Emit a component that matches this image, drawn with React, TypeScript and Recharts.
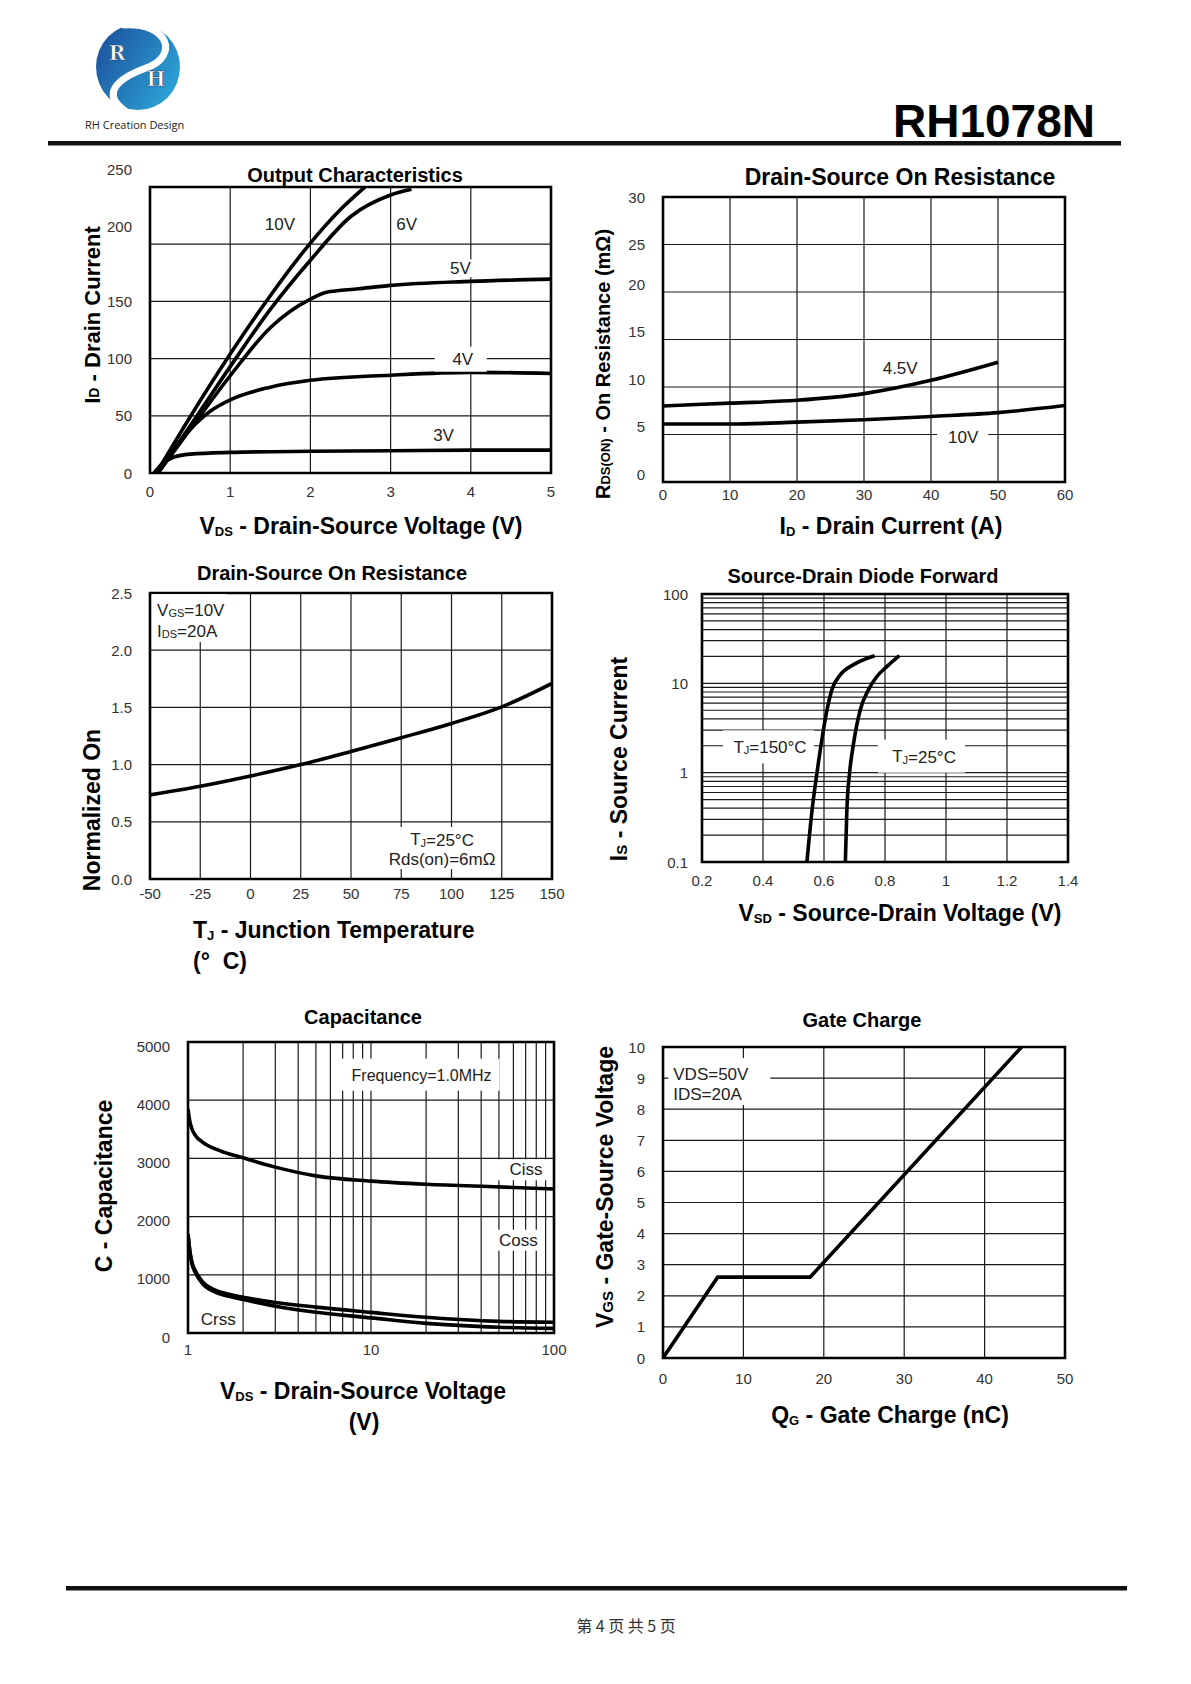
import React from "react";
import {
  ComposedChart,
  Line,
  XAxis,
  YAxis,
  CartesianGrid,
  ReferenceArea,
  ReferenceDot,
} from "recharts";

const SANS = '"Liberation Sans", Arial, Helvetica, sans-serif';

// ---- Output characteristics: ID vs VDS for each VGS
const VDS_10V = [0.08, 0.5, 1, 1.5, 2, 2.4, 2.68];
const ID_10V = [0, 49, 104, 155, 201, 232, 250];
const VDS_6V = [0.1, 0.5, 1, 1.5, 2, 2.5, 3, 3.26];
const ID_6V = [0, 41, 93, 143, 186, 224, 243, 248];
const VDS_5V = [0.1, 0.5, 1, 1.5, 2, 2.2, 2.6, 3, 4, 5];
const ID_5V = [0, 38, 85, 127, 152, 158, 161, 164, 167.5, 169.5];
const VDS_4V = [0.1, 0.4, 0.75, 1, 1.5, 2, 3, 4, 5];
const ID_4V = [0, 30, 54, 64, 75, 81, 85.5, 88, 87];
const VDS_3V = [0.05, 0.15, 0.3, 0.5, 1, 2, 3, 4, 5];
const ID_3V = [0, 8, 14, 16.5, 18, 19, 19.5, 20, 20];
const OUT_LABELS = ["10V", "6V", "5V", "4V", "3V"];
const OUT_LABEL_AT = [[1.62, 217], [3.2, 217], [3.87, 179], [3.9, 99], [3.66, 33]];

// ---- RDS(on) vs ID
const ID_A = [0, 10, 20, 30, 40, 50];
const RDS_45V = [8.0, 8.3, 8.6, 9.3, 10.7, 12.6];
const ID_B = [0, 10, 20, 30, 40, 50, 60];
const RDS_10V = [6.1, 6.1, 6.3, 6.55, 6.9, 7.3, 8.05];

// ---- normalized RDS(on) vs TJ
const TJ = [-50, -25, 0, 25, 50, 75, 100, 125, 150];
const RDS_NORM = [0.735, 0.81, 0.9, 1.0, 1.115, 1.235, 1.36, 1.505, 1.71];

// ---- body diode forward
const VSD_150 = [0.544, 0.561, 0.577, 0.593, 0.61, 0.626, 0.654, 0.697, 0.766];
const IS_150 = [0.1, 0.385, 1, 2.34, 5.07, 8.5, 12.5, 16.2, 20.4];
const VSD_25 = [0.67, 0.675, 0.684, 0.697, 0.719, 0.746, 0.774, 0.807, 0.847];
const IS_25 = [0.1, 0.385, 1, 2.14, 5.07, 8.5, 12, 15.5, 20.4];
const LOG_TICKS_IS = [0.1, 0.2, 0.3, 0.4, 0.5, 0.6, 0.7, 0.8, 0.9, 1, 2, 3, 4, 5, 6, 7, 8, 9, 10, 20, 30, 40, 50, 60, 70, 80, 90, 100];

// ---- capacitance
const VDS_CISS = [1, 1.02, 1.05, 1.1, 1.2, 1.5, 2, 3, 5, 10, 20, 50, 100];
const CISS = [3850, 3660, 3510, 3390, 3280, 3130, 3010, 2850, 2700, 2610, 2555, 2510, 2475];
const VDS_COSS = [1, 1.02, 1.05, 1.1, 1.2, 1.4, 1.7, 2, 3, 5, 10, 20, 50, 100];
const COSS = [1700, 1450, 1220, 1060, 880, 740, 660, 615, 525, 445, 355, 270, 200, 185];
const CRSS = [1700, 1430, 1190, 1030, 850, 705, 625, 575, 460, 355, 260, 165, 100, 80];
const LOG_TICKS_V = [1, 2, 3, 4, 5, 6, 7, 8, 9, 10, 20, 30, 40, 50, 60, 70, 80, 90, 100];

// ---- gate charge
const QG = [0, 6.8, 18.3, 44.6];
const VGS = [0, 2.6, 2.6, 10];

const pts = (xs: number[], ys: number[]) => xs.map((x, i) => ({ x, y: ys[i] }));

const PAD_L = 70;
const PAD_T = 30;
const PAD_R = 20;
const PAD_B = 40;
const tickStyle = { fontSize: 15, fontFamily: SANS, fill: "#333" };

type AxisCfg = {
  domain: [number, number];
  ticks: number[];
  log?: boolean;
  gap: number;
  fmt?: (v: number) => string;
  dy?: (v: number) => number;
};

function Plot({
  box,
  x,
  y,
  children,
}: {
  box: { l: number; t: number; r: number; b: number };
  x: AxisCfg;
  y: AxisCfg;
  children: React.ReactNode;
}) {
  const w = box.r - box.l;
  const h = box.b - box.t;
  const yTick = (p: any) => {
    const v = p.payload.value;
    const s = y.fmt ? y.fmt(v) : String(v);
    if (!s) return <g />;
    return (
      <text x={PAD_L - y.gap} y={p.y + (y.dy ? y.dy(v) : 0)} textAnchor="end" dominantBaseline="central" {...tickStyle}>
        {s}
      </text>
    );
  };
  const xTick = (p: any) => {
    const v = p.payload.value;
    const s = x.fmt ? x.fmt(v) : String(v);
    if (!s) return <g />;
    return (
      <text x={p.x} y={PAD_T + h + x.gap} textAnchor="middle" dominantBaseline="central" {...tickStyle}>
        {s}
      </text>
    );
  };
  return (
    <div style={{ position: "absolute", left: box.l - PAD_L, top: box.t - PAD_T }}>
      <ComposedChart width={w + PAD_L + PAD_R} height={h + PAD_T + PAD_B} margin={{ top: PAD_T, right: PAD_R, bottom: 0, left: 0 }}>
        <CartesianGrid stroke="#1a1a1a" strokeWidth={1.2} />
        <XAxis
          type="number"
          dataKey="x"
          domain={x.domain}
          ticks={x.ticks}
          scale={x.log ? "log" : "linear"}
          allowDataOverflow
          interval={0}
          axisLine={false}
          tickLine={false}
          tick={xTick}
          height={PAD_B}
        />
        <YAxis
          type="number"
          domain={y.domain}
          ticks={y.ticks}
          scale={y.log ? "log" : "linear"}
          allowDataOverflow
          interval={0}
          axisLine={false}
          tickLine={false}
          tick={yTick}
          width={PAD_L}
        />
        <ReferenceArea x1={x.domain[0]} x2={x.domain[1]} y1={y.domain[0]} y2={y.domain[1]} fill="none" stroke="#000" strokeWidth={2.6} />
        {children}
      </ComposedChart>
    </div>
  );
}

function curve(key: string, data: { x: number; y: number }[], type: "monotone" | "linear" = "monotone") {
  return (
    <Line
      key={key}
      data={data}
      dataKey="y"
      type={type}
      stroke="#000"
      strokeWidth={3.6}
      dot={false}
      activeDot={false}
      isAnimationActive={false}
    />
  );
}

function Tag(props: any) {
  const vb = props.viewBox;
  if (!vb) return null;
  const cx = vb.x + (vb.width || 0) / 2;
  const cy = vb.y + (vb.height || 0) / 2;
  const lines: React.ReactNode[] = props.lines;
  const anchor = props.anchor || "middle";
  const size = props.size || 17;
  const gap = props.gap || 20;
  const box: number[] | undefined = props.box;
  return (
    <g>
      {box && <rect x={cx + box[0]} y={cy + box[1]} width={box[2]} height={box[3]} fill="#fff" />}
      {lines.map((ln, i) => (
        <text key={i} x={cx} y={cy + i * gap} textAnchor={anchor} dominantBaseline="central" fontSize={size} fontFamily={SANS} fill="#222">
          {ln}
        </text>
      ))}
    </g>
  );
}

function note(key: string, x: number, y: number, lines: React.ReactNode[], opts: any = {}) {
  return (
    <ReferenceDot key={key} x={x} y={y} r={1} fill="none" stroke="none" label={<Tag lines={lines} {...opts} />} />
  );
}

// main letter, lowered small subscript, then the rest of the text
const sub = (main: string, s: string, rest: string, d = 4, size = 11) => (
  <>
    {main}
    <tspan fontSize={size} dy={d}>{s}</tspan>
    <tspan dy={-d}>{rest}</tspan>
  </>
);

function T({ x, y, size = 20, anchor = "middle", rot = false, children }: any) {
  return (
    <text
      x={rot ? 0 : x}
      y={rot ? 0 : y}
      transform={rot ? `translate(${x},${y}) rotate(-90)` : undefined}
      textAnchor={anchor}
      dominantBaseline="central"
      fontSize={size}
      fontWeight={700}
      fontFamily={SANS}
      fill="#000"
      style={{ whiteSpace: "pre" }}
    >
      {children}
    </text>
  );
}

function PageDecor() {
  return (
    <svg width={1191} height={1684} style={{ position: "absolute", left: 0, top: 0 }}>
      <defs>
        <linearGradient id="logoGrad" x1="0" y1="0" x2="1" y2="0.6">
          <stop offset="0" stopColor="#1b4a96" />
          <stop offset="1" stopColor="#2c9fd4" />
        </linearGradient>
      </defs>
      <ellipse cx={138} cy={67} rx={42} ry={43} fill="url(#logoGrad)" />
      <path d="M 124 25 C 168 22, 180 56, 146 68 C 116 79, 102 94, 124 110" fill="none" stroke="#fff" strokeWidth={7} strokeLinecap="round" />
      <text x={117} y={60} textAnchor="middle" fontFamily='"DejaVu Serif", serif' fontSize={20} fontWeight={700} fill="#fff" stroke="#1d3f78" strokeWidth={0.6}>R</text>
      <text x={156} y={86} textAnchor="middle" fontFamily='"DejaVu Serif", serif' fontSize={20} fontWeight={700} fill="#fff" stroke="#1d3f78" strokeWidth={0.6}>H</text>
      <text x={85} y={124} dominantBaseline="central" fontFamily='"Open Sans", sans-serif' fontSize={11} fill="#222">RH Creation Design</text>
      <text x={893} y={137} fontFamily={SANS} fontSize={46} fontWeight={700} fill="#000">RH1078N</text>
      <rect x={48} y={141} width={1073} height={4.5} fill="#111" />
      <rect x={66} y={1586} width={1061} height={4.5} fill="#111" />
      <text x={626} y={1625} textAnchor="middle" dominantBaseline="central" fontSize={16} fontFamily='"Noto Sans CJK SC", sans-serif' fill="#333">第 4 页 共 5 页</text>

      {/* output characteristics */}
      <T x={355} y={175} size={20}>Output Characteristics</T>
      <T x={92} y={315} size={22} rot>{sub("I", "D", " - Drain Current", 2, 14)}</T>
      <T x={361} y={526} size={23}>{sub("V", "DS", " - Drain-Source Voltage (V)", 5, 13)}</T>

      {/* rds vs id */}
      <T x={900} y={177} size={23}>Drain-Source On Resistance</T>
      <T x={603} y={364} size={20} rot>{sub("R", "DS(ON)", " - On Resistance (mΩ)", 2, 13)}</T>
      <T x={891} y={526} size={23}>{sub("I", "D", " - Drain Current (A)", 5, 13)}</T>

      {/* normalized rds vs tj */}
      <T x={332} y={573} size={20}>Drain-Source On Resistance</T>
      <T x={92} y={810} size={23} rot>Normalized On</T>
      <T x={193} y={930} size={23} anchor="start">{sub("T", "J", " - Junction Temperature", 5, 13)}</T>
      <T x={193} y={961} size={23} anchor="start">{"(°\u00a0\u00a0C)"}</T>

      {/* diode */}
      <T x={863} y={576} size={20}>Source-Drain Diode Forward</T>
      <T x={619} y={759} size={23} rot>{sub("I", "S", " - Source Current", 2, 15)}</T>
      <T x={900} y={913} size={23}>{sub("V", "SD", " - Source-Drain Voltage (V)", 5, 13)}</T>

      {/* capacitance */}
      <T x={363} y={1017} size={20}>Capacitance</T>
      <T x={104} y={1186} size={23} rot>C - Capacitance</T>
      <T x={363} y={1391} size={23}>{sub("V", "DS", " - Drain-Source Voltage", 5, 13)}</T>
      <T x={364} y={1422} size={23}>(V)</T>

      {/* gate charge */}
      <T x={862} y={1020} size={20}>Gate Charge</T>
      <T x={605} y={1187} size={23} rot>{sub("V", "GS", " - Gate-Source Voltage", 2, 15)}</T>
      <T x={890} y={1415} size={23}>{sub("Q", "G", " - Gate Charge (nC)", 5, 13)}</T>
    </svg>
  );
}

export default function App() {
  const decade = (v: number) => (v === 0.1 || v === 1 || v === 10 || v === 100 ? String(v) : "");
  return (
    <div style={{ position: "absolute", left: 0, top: 0, width: 1191, height: 1684, background: "#fff", overflow: "hidden" }}>
      <PageDecor />

      <Plot
        box={{ l: 150, t: 187, r: 551, b: 473 }}
        x={{ domain: [0, 5], ticks: [0, 1, 2, 3, 4, 5], gap: 18 }}
        y={{ domain: [0, 250], ticks: [0, 50, 100, 150, 200, 250], gap: 18, dy: (v) => (v >= 200 ? -18 : 0) }}
      >
        {curve("v10", pts(VDS_10V, ID_10V))}
        {curve("v6", pts(VDS_6V, ID_6V))}
        {curve("v5", pts(VDS_5V, ID_5V))}
        {curve("v4", pts(VDS_4V, ID_4V))}
        {curve("v3", pts(VDS_3V, ID_3V))}
        {note("l0", OUT_LABEL_AT[0][0], OUT_LABEL_AT[0][1], [OUT_LABELS[0]])}
        {note("l1", OUT_LABEL_AT[1][0], OUT_LABEL_AT[1][1], [OUT_LABELS[1]])}
        {note("l2", OUT_LABEL_AT[2][0], OUT_LABEL_AT[2][1], [OUT_LABELS[2]], { box: [-13, -9, 26, 18] })}
        {note("l3", OUT_LABEL_AT[3][0], OUT_LABEL_AT[3][1], [OUT_LABELS[3]], { box: [-28, -13, 52, 25] })}
        {note("l4", OUT_LABEL_AT[4][0], OUT_LABEL_AT[4][1], [OUT_LABELS[4]])}
      </Plot>

      <Plot
        box={{ l: 663, t: 197, r: 1065, b: 482 }}
        x={{ domain: [0, 60], ticks: [0, 10, 20, 30, 40, 50, 60], gap: 12 }}
        y={{ domain: [0, 30], ticks: [0, 5, 10, 15, 20, 25, 30], gap: 18, dy: (v) => (v <= 20 ? -8 : 0) }}
      >
        {curve("r45", pts(ID_A, RDS_45V))}
        {curve("r10", pts(ID_B, RDS_10V))}
        {note("n45", 35.4, 12.0, ["4.5V"])}
        {note("n10", 44.8, 4.68, ["10V"], { box: [-26, -10, 51, 20] })}
      </Plot>

      <Plot
        box={{ l: 150, t: 593, r: 552, b: 879 }}
        x={{ domain: [-50, 150], ticks: [-50, -25, 0, 25, 50, 75, 100, 125, 150], gap: 14 }}
        y={{ domain: [0, 2.5], ticks: [0, 0.5, 1, 1.5, 2, 2.5], gap: 18, fmt: (v) => v.toFixed(1) }}
      >
        {curve("tj", pts(TJ, RDS_NORM))}
        {note("cond", -46.5, 2.351, [
          sub("V", "GS", "=10V", 3, 11),
          sub("I", "DS", "=20A", 3, 11),
        ], { anchor: "start", box: [-5, -16, 75, 48], gap: 21 })}
        {note("ref", 95.3, 0.341, [
          sub("T", "J", "=25°C", 3, 11),
          "Rds(on)=6mΩ",
        ], { box: [-57, -13, 115, 42], gap: 20 })}
      </Plot>

      <Plot
        box={{ l: 702, t: 594, r: 1068, b: 862 }}
        x={{ domain: [0.2, 1.4], ticks: [0.2, 0.4, 0.6, 0.8, 1, 1.2, 1.4], gap: 18 }}
        y={{ domain: [0.1, 100], ticks: LOG_TICKS_IS, log: true, gap: 14, fmt: decade }}
      >
        {curve("d150", pts(VSD_150, IS_150))}
        {curve("d25", pts(VSD_25, IS_25))}
        {note("t150", 0.423, 1.92, [sub("T", "J", "=150°C", 3, 11)], { box: [-47, -17, 91, 33] })}
        {note("t25", 0.928, 1.51, [sub("T", "J", "=25°C", 3, 11)], { box: [-46, -17, 87, 33] })}
      </Plot>

      <Plot
        box={{ l: 188, t: 1042, r: 554, b: 1333 }}
        x={{ domain: [1, 100], ticks: LOG_TICKS_V, log: true, gap: 16, fmt: decade }}
        y={{ domain: [0, 5000], ticks: [0, 1000, 2000, 3000, 4000, 5000], gap: 18, dy: () => 4 }}
      >
        {curve("ciss", pts(VDS_CISS, CISS))}
        {curve("coss", pts(VDS_COSS, COSS))}
        {curve("crss", pts(VDS_COSS, CRSS))}
        {note("freq", 18.9, 4421, ["Frequency=1.0MHz"], { size: 16, box: [-80, -17, 158, 32] })}
        {note("nciss", 70.3, 2813, ["Ciss"], { box: [-28, -10, 54, 21] })}
        {note("ncoss", 63.8, 1586, ["Coss"], { box: [-21, -11, 41, 21] })}
        {note("ncrss", 1.464, 235, ["Crss"])}
      </Plot>

      <Plot
        box={{ l: 663, t: 1047, r: 1065, b: 1358 }}
        x={{ domain: [0, 50], ticks: [0, 10, 20, 30, 40, 50], gap: 20 }}
        y={{ domain: [0, 10], ticks: [0, 1, 2, 3, 4, 5, 6, 7, 8, 9, 10], gap: 18 }}
      >
        {curve("qg", pts(QG, VGS), "linear")}
        {note("qcond", 1.28, 9.1, ["VDS=50V", "IDS=20A"], { anchor: "start", box: [-5, -17, 102, 47], gap: 20 })}
      </Plot>
    </div>
  );
}
